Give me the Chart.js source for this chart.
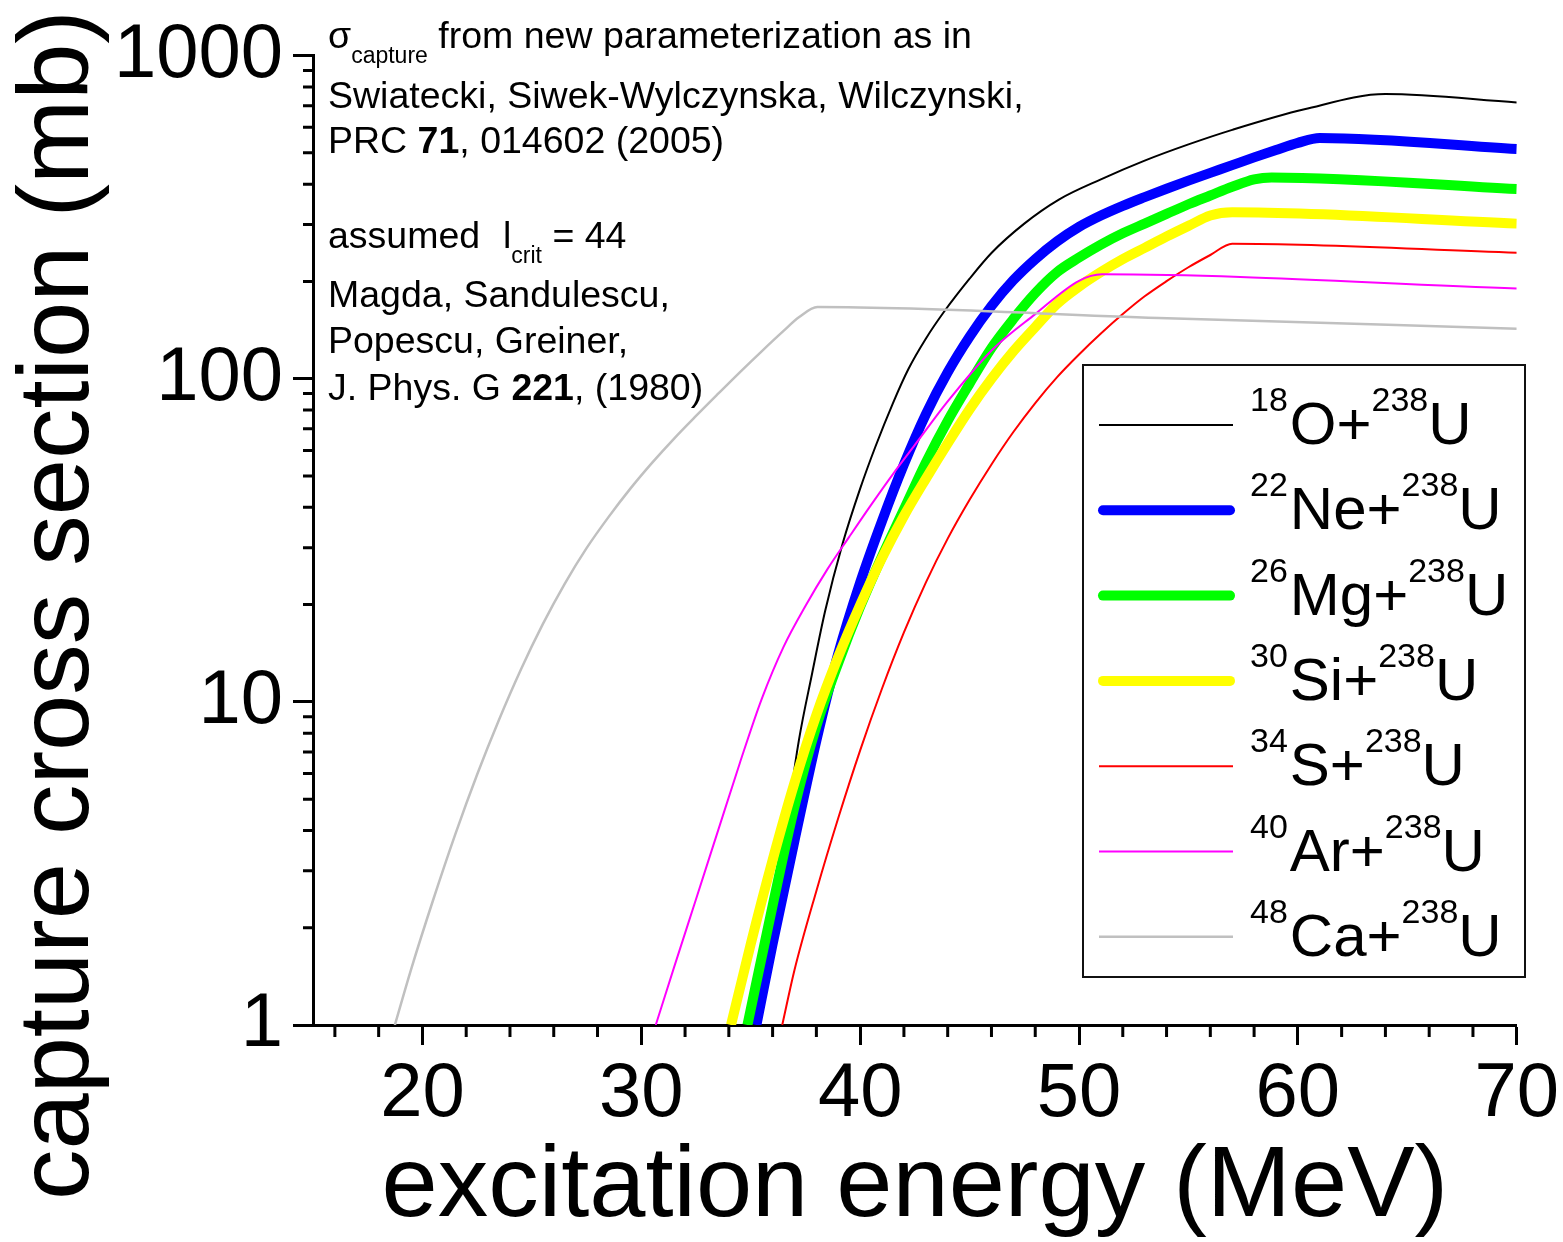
<!DOCTYPE html>
<html>
<head>
<meta charset="utf-8">
<title>capture cross section vs excitation energy</title>
<script src="https://cdn.jsdelivr.net/npm/chart.js@4/dist/chart.umd.min.js"></script>
<style>
  html, body { margin: 0; padding: 0; background: #fff; }
  #plot { display: block; }
</style>
</head>
<body>
<canvas id="plot" width="1563" height="1242"></canvas>
<script>
  'use strict';

  // Excitation energy (MeV) and capture cross section (mb).
  var o18Energy = [35.4, 36.2, 36.84, 37.2, 37.8, 38.4, 39.2, 40.0, 40.7, 41.5, 42.2, 43.0, 43.8, 45.0, 46.0, 47.5, 49.1, 51.0, 53.0, 55.0, 57.0, 60.3, 64.0, 70.0];
  var o18Sigma = [1, 2.34, 5.2, 7.6, 12.2, 19.1, 30.9, 45.7, 61.7, 84.1, 107, 133, 160, 204, 245, 302, 359, 414, 473, 531, 589, 682, 760, 716];

  var ne22Energy = [35.26, 36, 37, 38, 39, 40, 41, 42, 43, 44, 45, 46, 47, 48, 49, 50, 51, 52, 53, 54, 55, 56, 57, 58, 59, 60, 61, 70];
  var ne22Sigma = [1, 1.78, 3.72, 7.59, 14.1, 23.4, 36.3, 54.3, 77.6, 104.7, 134.9, 167.9, 201.8, 234.4, 266.1, 295.1, 319.9, 342.8, 364.8, 387.3, 410.2, 433.5, 458.1, 484.2, 510.5, 537.0, 555.9, 514.0];

  var mg26Energy = [34.85, 36, 37, 38, 39, 40, 41, 42, 43, 44, 45, 46, 47, 48, 49, 50, 51, 52, 53, 54, 55, 56, 57, 58, 58.8, 70];
  var mg26Sigma = [1, 2.34, 4.73, 8.41, 13.2, 19.7, 28.2, 39.4, 55.0, 74.1, 96.6, 124.5, 153.1, 184.1, 213.8, 237.1, 260.0, 281.8, 302.0, 323.6, 346.7, 369.0, 392.6, 414.0, 419.8, 386.4];

  var si30Energy = [34.1, 35, 36, 37, 38, 39, 40, 41, 42, 43, 44, 45, 46, 47, 48, 49, 50, 51, 52, 53, 54, 55, 56, 57, 70];
  var si30Sigma = [1, 1.78, 3.24, 5.62, 9.12, 13.8, 19.95, 27.9, 37.6, 49.0, 63.1, 80.4, 100, 121.6, 144.5, 170.6, 192.8, 213.8, 234.4, 254.1, 275.4, 297.2, 319.9, 327.3, 302.0];

  var s34Energy = [36.44, 37, 38, 39, 40, 41, 42, 43, 44, 45, 46, 47, 48, 49, 50, 51, 52, 53, 54, 55, 56, 57, 70];
  var s34Sigma = [1, 1.48, 2.60, 4.37, 7.08, 11.0, 16.4, 23.4, 32.0, 42.2, 54.3, 68.4, 84.1, 101.2, 118.9, 138.0, 158.5, 179.9, 200.4, 221.3, 241.5, 261.8, 245.5];

  var ar40Energy = [30.66, 31.5, 32.5, 33.5, 34.5, 35.5, 36.5, 37.5, 38.5, 39.5, 40.5, 41.5, 42.5, 44.0, 46.04, 48.0, 50.0, 51.05, 70.0];
  var ar40Sigma = [1, 1.51, 2.45, 3.98, 6.46, 10.2, 14.8, 19.8, 25.7, 32.4, 40.7, 50.7, 62.4, 85.1, 123.0, 158.5, 200.9, 210.4, 190.1];

  var ca48Energy = [18.74, 19.5, 20.5, 21.5, 22.5, 23.5, 24.5, 25.5, 26.5, 27.5, 28.5, 29.5, 30.5, 31.5, 32.5, 33.5, 34.5, 35.5, 36.5, 37.2, 38.05, 53.64, 70.0];
  var ca48Sigma = [1, 1.50, 2.45, 3.89, 5.96, 8.81, 12.6, 17.4, 23.2, 29.9, 37.3, 45.7, 55.0, 65.3, 76.7, 89.7, 104.7, 121.6, 140.6, 154.9, 166.7, 154.2, 142.9];

  // Legend text parts: projectile mass number and symbol, all on 238U.
  var projectileMass = ['18', '22', '26', '30', '34', '40', '48'];
  var projectileSymbol = ['O', 'Ne', 'Mg', 'Si', 'S', 'Ar', 'Ca'];
  var targetMass = '238';
  var targetSymbol = 'U';

  var xTickValues = [20, 30, 40, 50, 60, 70];
  var yTickValues = [1, 10, 100, 1000];

  // Styles, kept apart from the data.
  var seriesColors = ['#000000', '#0000ff', '#00ff00', '#ffff00', '#ff0000', '#ff00ff', '#c0c0c0'];
  var seriesWidths = [2, 10, 10, 10, 2, 2, 2.5];

  var FONT = '"Liberation Sans", Arial, sans-serif';

  var energies = [o18Energy, ne22Energy, mg26Energy, si30Energy, s34Energy, ar40Energy, ca48Energy];
  var sigmas = [o18Sigma, ne22Sigma, mg26Sigma, si30Sigma, s34Sigma, ar40Sigma, ca48Sigma];

  var datasets = energies.map(function (energy, i) {
    return {
      label: projectileMass[i] + projectileSymbol[i] + '+' + targetMass + targetSymbol,
      data: energy.map(function (e, j) { return {x: e, y: sigmas[i][j]}; }),
      borderColor: seriesColors[i],
      backgroundColor: seriesColors[i],
      borderWidth: seriesWidths[i],
      pointRadius: 0,
      fill: false,
      cubicInterpolationMode: 'monotone',
      borderJoinStyle: 'round',
      // later series are painted on top
      order: energies.length - 1 - i
    };
  });

  // Draws text pieces one after another (for sub/superscripts and bold parts).
  function drawRich(ctx, x, y, parts) {
    parts.forEach(function (p) {
      ctx.font = (p.bold ? 'bold ' : '') + p.size + 'px ' + FONT;
      if (p.x !== undefined) {
        x = p.x;
      }
      ctx.fillText(p.text, x, y + (p.dy || 0));
      x += ctx.measureText(p.text).width + (p.gap || 0);
    });
  }

  // Shorter minor ticks, placed through the chart's own scales.
  var minorTicks = {
    id: 'minorTicks',
    afterDraw: function (chart) {
      var ctx = chart.ctx;
      var area = chart.chartArea;
      var xs = chart.scales.x;
      var ys = chart.scales.y;
      ctx.save();
      ctx.strokeStyle = '#000';
      ctx.lineWidth = 3;
      ctx.beginPath();
      for (var d = 1; d < 1000; d *= 10) {
        for (var m = 2; m <= 9; m++) {
          var py = ys.getPixelForValue(m * d);
          ctx.moveTo(area.left - 10, py);
          ctx.lineTo(area.left, py);
        }
      }
      for (var e = 16; e < 70; e += 2) {
        if (e % 10 !== 0) {
          var px = xs.getPixelForValue(e);
          ctx.moveTo(px, area.bottom);
          ctx.lineTo(px, area.bottom + 12);
        }
      }
      ctx.stroke();
      ctx.restore();
    }
  };

  // Y title, the notes in the upper left and the boxed legend.
  var decorations = {
    id: 'decorations',
    afterDraw: function (chart) {
      var ctx = chart.ctx;
      ctx.save();
      ctx.fillStyle = '#000';
      ctx.textBaseline = 'alphabetic';

      // y axis title, rotated
      ctx.save();
      ctx.translate(88, 605);
      ctx.rotate(-Math.PI / 2);
      ctx.textAlign = 'center';
      ctx.font = '101px ' + FONT;
      ctx.fillText('capture cross section (mb)', 0, 0);
      ctx.restore();

      ctx.textAlign = 'left';
      var fs = 37.5;
      var notes = [
        [48, [{text: 'σ', size: fs}, {text: 'capture', size: 23, dy: 15}, {text: ' from new parameterization as in', size: fs}]],
        [108, [{text: 'Swiatecki, Siwek-Wylczynska, Wilczynski,', size: fs}]],
        [153, [{text: 'PRC ', size: fs}, {text: '71', size: fs, bold: true}, {text: ', 014602 (2005)', size: fs}]],
        [248, [{text: 'assumed', size: fs}, {text: 'l', size: fs, x: 503}, {text: 'crit', size: 23, dy: 15}, {text: ' = 44', size: fs}]],
        [307, [{text: 'Magda, Sandulescu,', size: fs}]],
        [353, [{text: 'Popescu, Greiner,', size: fs}]],
        [400, [{text: 'J. Phys. G ', size: fs}, {text: '221', size: fs, bold: true}, {text: ', (1980)', size: fs}]]
      ];
      notes.forEach(function (n) {
        drawRich(ctx, 328, n[0], n[1]);
      });

      // legend
      var box = {left: 1083, top: 365, right: 1525, bottom: 977};
      ctx.fillStyle = '#fff';
      ctx.fillRect(box.left, box.top, box.right - box.left, box.bottom - box.top);
      ctx.strokeStyle = '#111';
      ctx.lineWidth = 2;
      ctx.strokeRect(box.left, box.top, box.right - box.left, box.bottom - box.top);

      chart.data.datasets.forEach(function (ds, i) {
        var ly = 425 + i * 85.3;
        var thick = ds.borderWidth > 5;
        ctx.strokeStyle = ds.borderColor;
        ctx.lineWidth = ds.borderWidth;
        ctx.lineCap = thick ? 'round' : 'butt';
        ctx.beginPath();
        ctx.moveTo(thick ? 1103 : 1099, ly);
        ctx.lineTo(thick ? 1230 : 1233, ly);
        ctx.stroke();
        ctx.fillStyle = '#000';
        drawRich(ctx, 1250, ly + 19, [
          {text: projectileMass[i], size: 34, dy: -33, gap: 2},
          {text: projectileSymbol[i] + '+', size: 60},
          {text: targetMass, size: 34, dy: -33},
          {text: targetSymbol, size: 60}
        ]);
      });
      ctx.restore();
    }
  };

  var axisGrid = {
    drawOnChartArea: false,
    drawTicks: true,
    tickLength: 20,
    tickWidth: 3,
    tickColor: '#000'
  };

  new Chart(document.getElementById('plot'), {
    type: 'line',
    data: {datasets: datasets},
    options: {
      responsive: false,
      animation: false,
      devicePixelRatio: 1,
      layout: {padding: {left: 0, right: 44, top: 53, bottom: 0}},
      plugins: {
        legend: {display: false},
        tooltip: {enabled: false}
      },
      scales: {
        x: {
          type: 'linear',
          position: 'bottom',
          min: 15,
          max: 70,
          afterBuildTicks: function (scale) {
            scale.ticks = xTickValues.map(function (v) { return {value: v}; });
          },
          afterFit: function (scale) { scale.height = 217; },
          grid: axisGrid,
          border: {display: true, color: '#000', width: 3},
          ticks: {
            color: '#000',
            font: {family: FONT, size: 76},
            padding: 4,
            maxRotation: 0,
            autoSkip: false
          },
          title: {
            display: true,
            text: 'excitation energy (MeV)',
            color: '#000',
            font: {family: FONT, size: 101, lineHeight: 1},
            padding: {top: 0, bottom: 3}
          }
        },
        y: {
          type: 'logarithmic',
          position: 'left',
          min: 1,
          max: 1000,
          afterBuildTicks: function (scale) {
            scale.ticks = yTickValues.map(function (v) { return {value: v}; });
          },
          afterFit: function (scale) { scale.width = 313; },
          grid: axisGrid,
          border: {display: true, color: '#000', width: 3},
          ticks: {
            color: '#000',
            font: {family: FONT, size: 76},
            padding: 10,
            autoSkip: false,
            callback: function (value) { return String(value); }
          }
        }
      }
    },
    plugins: [minorTicks, decorations]
  });
</script>
</body>
</html>
